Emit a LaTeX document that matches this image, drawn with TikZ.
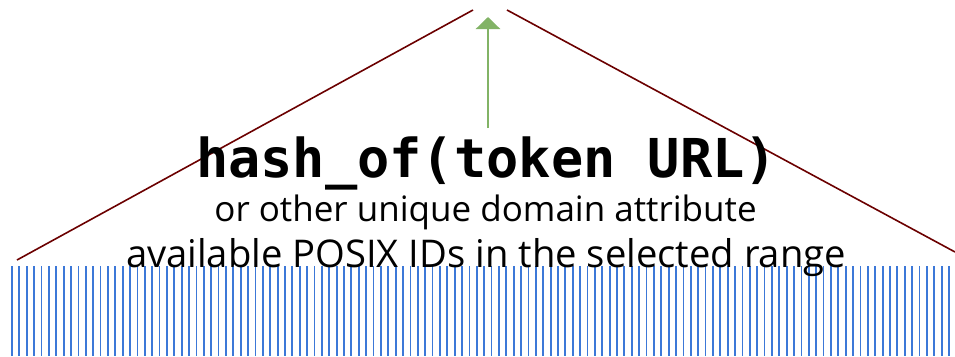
\documentclass[tikz,border=0pt]{standalone}
\usepackage{fontspec}
\setmainfont{Open Sans}
\newfontfamily\codefont{DejaVu Sans Mono}
\usetikzlibrary{arrows.meta}
\definecolor{roofred}{HTML}{6B0000}
\definecolor{upgreen}{HTML}{82B366}
\definecolor{idblue}{HTML}{3C78D8}
\tikzset{
  roof/.style={draw=roofred, line width=1.6pt},
  idline/.style={draw=idblue, line width=1.8pt},
  uparrow/.style={draw=upgreen, line width=2.6pt, -{Triangle[width=24pt,length=12pt]}},
  label/.style={inner sep=0pt, anchor=base, text=black}
}
\begin{document}
\begin{tikzpicture}[x=1pt,y=-1pt]
  \useasboundingbox (0,0) rectangle (955,356);
  % range of available IDs
  \foreach \i in {0,...,127} {
    \draw[idline] ({12+\i*7.378},266) -- ({12+\i*7.378},356);
  }
  % roof over the range
  \coordinate (lbase) at (17,260);
  \coordinate (lapex) at (473,10);
  \coordinate (rapex) at (507,10);
  \coordinate (rbase) at (955,252);
  \draw[roof] (lbase) -- (lapex);
  \draw[roof] (rapex) -- (rbase);
  % labels
  \node[label, font=\codefont\bfseries\fontsize{53.6}{58}\selectfont] (hash) at (486.5,177) {hash\_of(token URL)};
  \node[label, font=\fontsize{35}{40}\selectfont] (other) at (485.5,221) {or other unique domain attribute};
  \node[label, font=\fontsize{38.2}{44}\selectfont] (avail) at (486,267) {available POSIX IDs in the selected range};
  % mapping up to the apex
  \coordinate (tail) at (488,128);
  \coordinate (tip) at (488,17);
  \draw[uparrow] (tail) -- (tip);
\end{tikzpicture}
\end{document}
